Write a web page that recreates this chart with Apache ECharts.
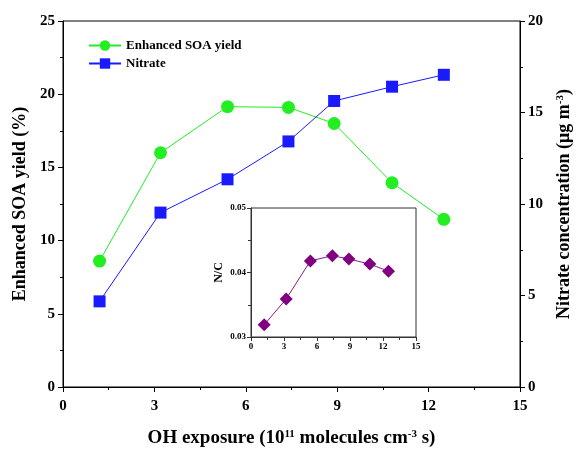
<!DOCTYPE html>
<html><head><meta charset="utf-8">
<script src="https://cdn.jsdelivr.net/npm/echarts@6/dist/echarts.min.js"></script>
<style>html,body{margin:0;padding:0;background:#fff}#c{width:576px;height:450px}</style>
</head><body><div id="c"></div>
<script>
var ohExposure = [1.2, 3.2, 5.4, 7.4, 8.9, 10.8, 12.5];
var soaYield = [8.6, 16.0, 19.15, 19.1, 18.0, 13.95, 11.45];
var nitrate = [4.68, 9.53, 11.35, 13.42, 15.63, 16.41, 17.06];
var ncRatio = [0.0319, 0.0359, 0.0418, 0.0426, 0.0421, 0.0413, 0.0402];
var seriesNames = ['Enhanced SOA yield', 'Nitrate', 'N/C'];

function pairs(xs, ys){ return xs.map(function(x,i){return [x, ys[i]];}); }
var FONT = '"Liberation Serif","Times New Roman",serif';
var sup = {fontSize: 11, fontWeight: 'bold', fontFamily: FONT, verticalAlign: 'top', color: '#000'};
var chart = echarts.init(document.getElementById('c'), null, {renderer: 'canvas'});
var axisCommon = {
  axisLine: {show: true, lineStyle: {color: '#000', width: 1}},
  axisTick: {show: true, inside: false, length: 5, lineStyle: {color: '#000'}},
  minorTick: {show: true, splitNumber: 2, length: 3, lineStyle: {color: '#000'}},
  splitLine: {show: false},
  axisLabel: {color: '#000', fontFamily: FONT, fontWeight: 'bold', fontSize: 15}
};
var insetAxis = {
  axisLine: {show: true, lineStyle: {color: '#333', width: 1}},
  axisTick: {show: true, inside: false, length: 4, lineStyle: {color: '#333'}},
  minorTick: {show: true, splitNumber: 2, length: 3, lineStyle: {color: '#333'}},
  splitLine: {show: false},
  axisLabel: {color: '#000', fontFamily: FONT, fontWeight: 'bold', fontSize: 9, margin: 5}
};
var option = {
  animation: false,
  backgroundColor: '#fff',
  textStyle: {fontFamily: FONT},
  legend: {
    data: [seriesNames[0], seriesNames[1]],
    orient: 'vertical', left: 83, top: 34,
    itemWidth: 32, itemHeight: 13, itemGap: 5,
    textStyle: {fontFamily: FONT, fontWeight: 'bold', fontSize: 13, color: '#000', padding: [0,0,0,0]}
  },
  grid: [
    {left: 63, right: 56, top: 21, bottom: 63, show: true, borderColor: '#000', borderWidth: 1, backgroundColor: 'transparent', containLabel: false, outerBoundsMode: 'none'},
    {left: 251, top: 208, width: 165, height: 129, show: true, borderColor: '#333', borderWidth: 1, backgroundColor: '#fff', containLabel: false, outerBoundsMode: 'none'}
  ],
  xAxis: [
    Object.assign({}, axisCommon, {
      type: 'value', gridIndex: 0, min: 0, max: 15, interval: 3,
      name: 'OH exposure (10{s|11} molecules cm{s|-3} s)', nameLocation: 'middle', nameGap: 42,
      nameTextStyle: {fontFamily: FONT, fontWeight: 'bold', fontSize: 19, color: '#000', rich: {s: sup}},
      axisLabel: Object.assign({}, axisCommon.axisLabel, {margin: 12})
    }),
    Object.assign({}, insetAxis, {type: 'value', gridIndex: 1, min: 0, max: 15, interval: 3})
  ],
  yAxis: [
    Object.assign({}, axisCommon, {
      type: 'value', gridIndex: 0, position: 'left', min: 0, max: 25, interval: 5,
      name: 'Enhanced SOA yield (%)', nameLocation: 'middle', nameGap: 25, nameRotate: 90,
      nameTextStyle: {fontFamily: FONT, fontWeight: 'bold', fontSize: 18, color: '#000'},
      axisLabel: Object.assign({}, axisCommon.axisLabel, {margin: 8})
    }),
    Object.assign({}, axisCommon, {
      type: 'value', gridIndex: 0, position: 'right', min: 0, max: 20, interval: 5,
      name: 'Nitrate concentration (μg m{s|-3})', nameLocation: 'middle', nameGap: 35, nameRotate: 90,
      nameTextStyle: {fontFamily: FONT, fontWeight: 'bold', fontSize: 18, color: '#000', rich: {s: sup}},
      axisLabel: Object.assign({}, axisCommon.axisLabel, {margin: 8})
    }),
    Object.assign({}, insetAxis, {
      type: 'value', gridIndex: 1, min: 0.03, max: 0.05, interval: 0.01,
      name: 'N/C', nameLocation: 'middle', nameGap: 26, nameRotate: 90,
      nameTextStyle: {fontFamily: FONT, fontWeight: 'bold', fontSize: 12, color: '#000'},
      axisLabel: Object.assign({}, insetAxis.axisLabel, {formatter: function(v){return v.toFixed(2);}})
    })
  ],
  series: [
    {name: seriesNames[0], type: 'line', xAxisIndex: 0, yAxisIndex: 0, data: pairs(ohExposure, soaYield),
     symbol: 'circle', symbolSize: 13, lineStyle: {color: '#22ee22', width: 1}, itemStyle: {color: '#22ee22'}, z: 3},
    {name: seriesNames[1], type: 'line', xAxisIndex: 0, yAxisIndex: 1, data: pairs(ohExposure, nitrate),
     symbol: 'rect', symbolSize: 12, lineStyle: {color: '#1a1aff', width: 1}, itemStyle: {color: '#1a1aff'}, z: 3},
    {name: seriesNames[2], type: 'line', xAxisIndex: 1, yAxisIndex: 2, data: pairs(ohExposure, ncRatio),
     symbol: 'diamond', symbolSize: 13, lineStyle: {color: '#8a1a8a', width: 1}, itemStyle: {color: '#800080'}, z: 5}
  ]
};
chart.setOption(option);
</script></body></html>
